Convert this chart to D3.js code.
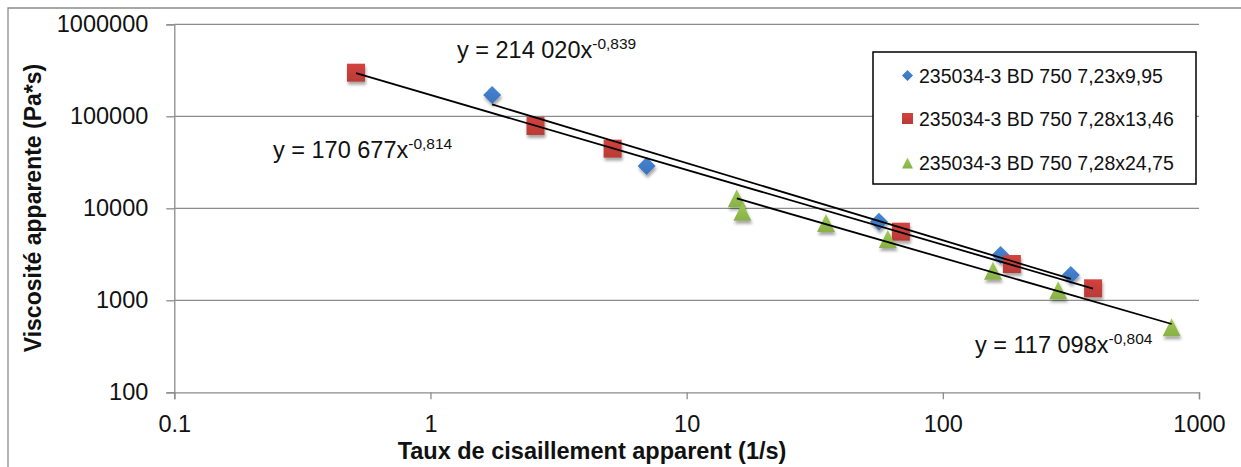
<!DOCTYPE html>
<html>
<head>
<meta charset="utf-8">
<script src="https://cdn.jsdelivr.net/npm/d3@7"></script>
<style>
  html, body { margin: 0; padding: 0; background: #fff; }
  svg { display: block; font-family: "Liberation Sans", Arial, sans-serif; }
</style>
</head>
<body>
<svg id="chart" width="1241" height="467"></svg>
<script>
// Apparent viscosity vs apparent shear rate, three samples, with power-law fits
const seriesNames = [
  "235034-3 BD 750 7,23x9,95",
  "235034-3 BD 750 7,28x13,46",
  "235034-3 BD 750 7,28x24,75"
];
const shearA = [1.74, 6.98, 56.3, 168, 316];
const viscA  = [170400, 28800, 7150, 3100, 1880];
const shearB = [0.512, 2.57, 5.14, 68.6, 186, 386];
const viscB  = [297800, 78500, 44500, 5570, 2480, 1350];
const shearC = [15.7, 16.5, 35.0, 61.0, 157, 282, 782];
const viscC  = [12850, 9190, 6920, 4640, 2100, 1290, 509];
const fitCoef = [214020, 170677, 117098];
const fitExp  = [-0.839, -0.814, -0.804];
const xTicks = [0.1, 1, 10, 100, 1000];
const xTickLabels = ["0.1", "1", "10", "100", "1000"];
const yTicks = [100, 1000, 10000, 100000, 1000000];
const yTickLabels = ["100", "1000", "10000", "100000", "1000000"];
const xTitle = "Taux de cisaillement apparent (1/s)";
const yTitle = "Viscosité apparente (Pa*s)";

const svg = d3.select("#chart");
const W = 1241, H = 467;
const plot = { left: 174.3, right: 1199, top: 24.3, bottom: 392.3 };
const colors = ["#3F79C3", "#C23D39", "#8FBA4C"];
const shapes = ["diamond", "square", "triangle"];

const x = d3.scaleLog().domain([0.1, 1000]).range([plot.left, plot.right]);
const y = d3.scaleLog().domain([100, 1000000]).range([plot.bottom, plot.top]);

const series = [
  { name: seriesNames[0], xs: shearA, ys: viscA },
  { name: seriesNames[1], xs: shearB, ys: viscB },
  { name: seriesNames[2], xs: shearC, ys: viscC }
];

// defs: marker shadow and soft gradients
const defs = svg.append("defs");
const shadow = defs.append("filter").attr("id", "shadow")
  .attr("x", "-50%").attr("y", "-50%").attr("width", "200%").attr("height", "200%");
shadow.append("feDropShadow").attr("dx", 1).attr("dy", 3)
  .attr("stdDeviation", 1.8).attr("flood-color", "#000").attr("flood-opacity", 0.35);
colors.forEach((c, i) => {
  const g = defs.append("linearGradient").attr("id", "grad" + i)
    .attr("x1", 0).attr("y1", 0).attr("x2", 0).attr("y2", 1);
  g.append("stop").attr("offset", "0%").attr("stop-color", d3.color(c).brighter(0.25));
  g.append("stop").attr("offset", "100%").attr("stop-color", d3.color(c).darker(0.15));
});

function shapePath(kind, r) {
  if (kind === "diamond") return `M0,${-r}L${r},0L0,${r}L${-r},0Z`;
  if (kind === "square") return `M${-r},${-r}H${r}V${r}H${-r}Z`;
  return `M0,${-r}L${r},${r}H${-r}Z`;
}

// outer chart border
svg.append("path")
  .attr("d", `M8,${H + 2}V8H${W + 2}`)
  .attr("fill", "none").attr("stroke", "#8c8c8c").attr("stroke-width", 1.3);

// horizontal gridlines
svg.append("g").selectAll("line")
  .data(yTicks.filter(v => v > 100))
  .join("line")
  .attr("x1", plot.left).attr("x2", plot.right)
  .attr("y1", d => y(d)).attr("y2", d => y(d))
  .attr("stroke", "#8c8c8c").attr("stroke-width", 1.3);

// y axis
const yAxis = d3.axisLeft(y).tickValues(yTicks)
  .tickFormat((d, i) => yTickLabels[i]).tickSize(8).tickPadding(18);
const gy = svg.append("g").attr("transform", `translate(${plot.left},0)`).call(yAxis);
gy.select(".domain").attr("stroke", "#8c8c8c").attr("stroke-width", 1.3);
gy.selectAll(".tick line").attr("stroke", "#8c8c8c").attr("stroke-width", 1.3);
gy.selectAll(".tick text").attr("font-size", 23.5).attr("fill", "#111")
  .attr("font-family", "'Liberation Sans', Arial, sans-serif");

// x axis
const xAxis = d3.axisBottom(x).tickValues(xTicks)
  .tickFormat((d, i) => xTickLabels[i]).tickSize(7).tickPadding(16);
const gx = svg.append("g").attr("transform", `translate(0,${plot.bottom})`).call(xAxis);
gx.select(".domain").attr("stroke", "#8c8c8c").attr("stroke-width", 1.3);
gx.selectAll(".tick line").attr("stroke", "#8c8c8c").attr("stroke-width", 1.3);
gx.selectAll(".tick text").attr("font-size", 23.5).attr("fill", "#111")
  .attr("font-family", "'Liberation Sans', Arial, sans-serif");

// axis titles
svg.append("text")
  .attr("x", 592).attr("y", 459)
  .attr("text-anchor", "middle")
  .attr("font-weight", "bold").attr("font-size", 23.5).attr("fill", "#111")
  .text(xTitle);
svg.append("text")
  .attr("transform", "translate(41,208) rotate(-90)")
  .attr("text-anchor", "middle")
  .attr("font-weight", "bold").attr("font-size", 23).attr("fill", "#111")
  .text(yTitle);

// data markers
series.forEach((s, i) => {
  svg.append("g").selectAll("path")
    .data(s.xs.map((v, j) => [v, s.ys[j]]))
    .join("path")
    .attr("d", shapePath(shapes[i], 9))
    .attr("transform", d => `translate(${x(d[0])},${y(d[1])})`)
    .attr("fill", `url(#grad${i})`)
    .attr("filter", "url(#shadow)");
});

// power-law trendlines y = a * x^b over each series' x range
const line = d3.line().x(d => x(d[0])).y(d => y(d[1]));
series.forEach((s, i) => {
  const [lo, hi] = d3.extent(s.xs);
  const pts = [lo, hi].map(v => [v, fitCoef[i] * Math.pow(v, fitExp[i])]);
  svg.append("path").datum(pts)
    .attr("d", line)
    .attr("fill", "none").attr("stroke", "#000").attr("stroke-width", 1.8);
});

// fit equations in French number format
const fr = d3.formatLocale({ decimal: ",", thousands: " ", grouping: [3], currency: ["", " €"] });
const fmtCoef = fr.format(",d");
const fmtExp = fr.format(".3f");
const eqPos = [[457, 58], [273, 158], [975, 353]];
fitCoef.forEach((a, i) => {
  const t = svg.append("text")
    .attr("x", eqPos[i][0]).attr("y", eqPos[i][1])
    .attr("font-size", 23.5).attr("fill", "#111");
  t.append("tspan").text(`y = ${fmtCoef(a)}x`);
  t.append("tspan").attr("dy", -9).attr("font-size", 15.5).text(fmtExp(fitExp[i]).replace("−", "-"));
});

// legend
const lg = svg.append("g");
lg.append("rect")
  .attr("x", 873).attr("y", 52).attr("width", 323).attr("height", 132)
  .attr("fill", "#fff").attr("stroke", "#000").attr("stroke-width", 1.5);
const rowY = [75.5, 118.5, 163];
series.forEach((s, i) => {
  lg.append("path")
    .attr("d", shapePath(shapes[i], 5.5))
    .attr("transform", `translate(907.5,${rowY[i]})`)
    .attr("fill", `url(#grad${i})`);
  lg.append("text")
    .attr("x", 919).attr("y", rowY[i] + 7)
    .attr("font-size", 19.5).attr("fill", "#111")
    .text(s.name);
});
</script>
</body>
</html>
